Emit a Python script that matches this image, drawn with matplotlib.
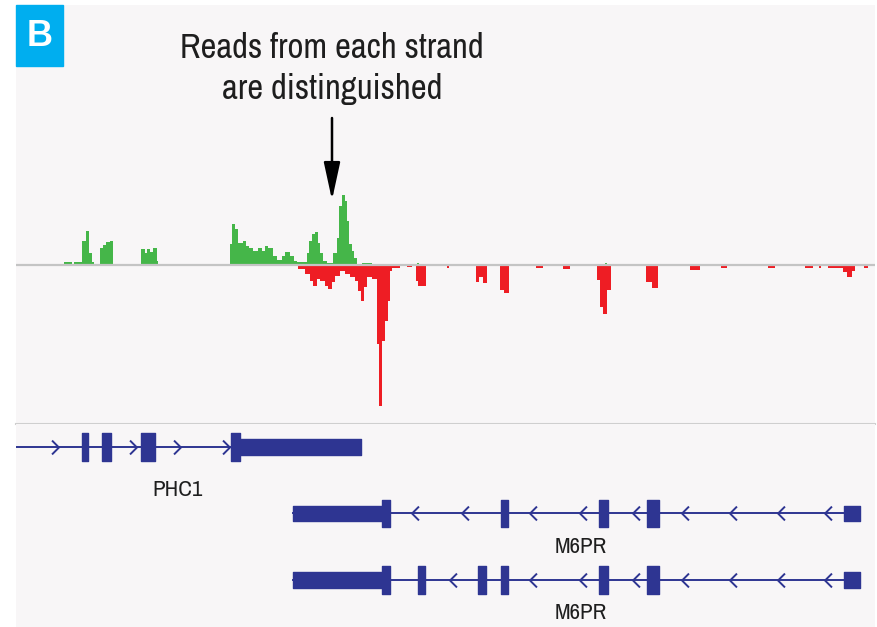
import numpy as np
import matplotlib
matplotlib.use("Agg")
import matplotlib.pyplot as plt
from matplotlib import font_manager
from matplotlib.path import Path

# coverage, plus strand (start of each step, read depth)
plus_pos = [64, 72, 74, 82, 86, 89, 92, 94,
            100, 103, 106, 110, 113,
            141, 145, 147, 150, 153, 157, 158,
            230, 232, 235, 238, 243, 246, 249, 253, 258, 262, 265, 268, 273,
            277, 282, 285, 290, 294, 297, 307, 309, 312, 315, 318, 320, 323,
            327, 333, 337, 339, 342, 345, 347, 349, 352, 354, 357, 362, 372,
            417, 419, 605, 607]
plus_h = [3, 0, 3, 24, 34, 12, 3, 0,
          17, 20, 23, 24, 0,
          16, 12, 16, 13, 17, 4, 0,
          21, 41, 36, 22, 24, 19, 17, 14, 17, 14, 19, 17, 9,
          5, 9, 13, 9, 4, 3, 12, 24, 31, 33, 22, 12, 4,
          2, 12, 27, 59, 70, 64, 44, 21, 14, 7, 0, 2, 0,
          2, 0, 2, 0]

# coverage, minus strand
minus_pos = [298, 305, 310, 313, 317, 320, 325, 328, 332, 335, 340, 345, 350,
             355, 358, 361, 364, 367, 372, 377, 379, 382, 385, 388, 390, 392, 400,
             407, 412, 416, 418, 426, 447, 449, 476, 479, 483, 487, 500, 504, 509,
             536, 543, 563, 570, 597, 600, 603, 607, 611, 646, 652, 658,
             690, 700, 721, 727, 768, 775, 805, 813, 819, 821, 828, 843, 847,
             852, 855, 864, 868]
minus_h = [4, 9, 16, 21, 14, 16, 21, 24, 17, 11, 6, 9, 12,
           16, 26, 36, 22, 12, 14, 79, 141, 76, 56, 36, 6, 3, 0,
           2, 0, 16, 21, 0, 3, 0, 17, 12, 18, 0, 25, 28, 0,
           3, 0, 4, 0, 15, 42, 49, 25, 0, 17, 23, 0,
           5, 0, 3, 0, 3, 0, 3, 0, 3, 0, 3, 7, 12,
           6, 0, 3, 0]

# gene models
phc1_span = (16, 361)
phc1_exons = [(82, 88), (102, 111), (141, 155), (231, 240)]
phc1_utr = [(240, 361)]
phc1_arrows = [55, 133, 177, 226]

m6pr_span = (293, 860)
m6pr_utr = [(293, 382), (844, 860)]
m6pr1_exons = [(382, 390), (501, 508), (599, 608), (647, 659)]
m6pr2_exons = [(382, 390), (418, 425), (478, 486), (501, 508), (599, 608), (647, 659)]
m6pr1_arrows = [415, 465, 533, 583, 636, 685, 733, 781, 828]
m6pr2_arrows = [453, 533, 583, 636, 685, 733, 781, 828]

green = '#45b649'
red = '#ee1d24'
navy = '#2e3592'
bg = '#f8f6f7'


def pick_font():
    # a condensed face if one is installed, else Roboto (narrower than DejaVu)
    for f in font_manager.fontManager.ttflist:
        if 'Narrow' in f.name or 'Condensed' in f.name:
            if f.style == 'normal' and f.weight in (400, 'normal', 'regular'):
                return font_manager.FontProperties(fname=f.fname), True
    for f in font_manager.fontManager.ttflist:
        if f.stretch in ('condensed', 'semi-condensed') and f.style == 'normal' \
                and f.weight in (400, 'normal', 'regular'):
            return font_manager.FontProperties(fname=f.fname), True
    return font_manager.FontProperties(family='Roboto'), False


fp, condensed = pick_font()
title_size = 25 if condensed else 21
label_size = 16.5 if condensed else 14

W, H = 877, 627
fig = plt.figure(figsize=(W / 100, H / 100), dpi=100)
left = 16 / W
width = (875 - 16) / W

# coverage track
ax = fig.add_axes([left, (H - 424) / H, width, 419 / H])
ax.set_facecolor(bg)
ax.set_xlim(16, 875)
ax.set_ylim(-159, 260)
ax.fill_between(plus_pos, plus_h, step='post', color=green, lw=0)
ax.fill_between(minus_pos, -np.array(minus_h), step='post', color=red, lw=0)
ax.axhline(0, color='#c4c4c4', lw=1.6, zorder=3)
ax.set_xticks([])
ax.set_yticks([])
for s in ['top', 'left', 'right']:
    ax.spines[s].set_visible(False)
ax.spines['bottom'].set_color('#cfcfcf')
ax.spines['bottom'].set_linewidth(1.5)

ax.text(332, 217, 'Reads from each strand', ha='center', va='center',
        fontproperties=fp, fontsize=title_size, color='#1e1e1e')
ax.text(332, 176, 'are distinguished', ha='center', va='center',
        fontproperties=fp, fontsize=title_size, color='#1e1e1e')
ax.annotate('', xy=(332, 65), xytext=(332, 147),
            arrowprops=dict(arrowstyle='-|>,head_length=23,head_width=5',
                            mutation_scale=1, lw=1.8, color='black',
                            shrinkA=0, shrinkB=0))

# panel letter
fig.patches.append(plt.Rectangle((16 / W, (H - 66) / H), 47 / W, 61 / H,
                                 transform=fig.transFigure, color='#00aeef'))
fig.text(39.5 / W, (H - 36) / H, 'B', ha='center', va='center', color='white',
         fontsize=26, fontweight='bold', family='Liberation Sans')

# gene track
gx = fig.add_axes([left, 0, width, 203 / H])
gx.set_xlim(16, 875)
gx.set_ylim(2.707, -0.346)
gx.axis('off')
gx.add_patch(plt.Rectangle((0, 0), 1, 1, transform=gx.transAxes, color=bg, zorder=0))

tall = 0.42
short = 0.24
right_chev = Path([(-0.5, 1), (0.5, 0), (-0.5, -1)])
left_chev = Path([(0.5, 1), (-0.5, 0), (0.5, -1)])


def draw_gene(row, span, utr, exons, arrows, chev):
    gx.plot(span, [row, row], color=navy, lw=1.4, zorder=1)
    gx.plot(arrows, [row] * len(arrows), ls='none', marker=chev, ms=10,
            mec=navy, mfc='none', mew=1.4, zorder=1)
    gx.broken_barh([(a, b - a) for a, b in utr], (row - short / 2, short),
                   color=navy, zorder=2)
    gx.broken_barh([(a, b - a) for a, b in exons], (row - tall / 2, tall),
                   color=navy, zorder=2)


draw_gene(0, phc1_span, phc1_utr, phc1_exons, phc1_arrows, right_chev)
draw_gene(1, m6pr_span, m6pr_utr, m6pr1_exons, m6pr1_arrows, left_chev)
draw_gene(2, m6pr_span, m6pr_utr, m6pr2_exons, m6pr2_arrows, left_chev)

gx.text(178, 0.65, 'PHC1', ha='center', va='center', fontproperties=fp,
        fontsize=label_size, color='#1e1e1e')
gx.text(581, 1.5, 'M6PR', ha='center', va='center', fontproperties=fp,
        fontsize=label_size, color='#1e1e1e')
gx.text(581, 2.5, 'M6PR', ha='center', va='center', fontproperties=fp,
        fontsize=label_size, color='#1e1e1e')

fig.savefig('out.png', dpi=100)
